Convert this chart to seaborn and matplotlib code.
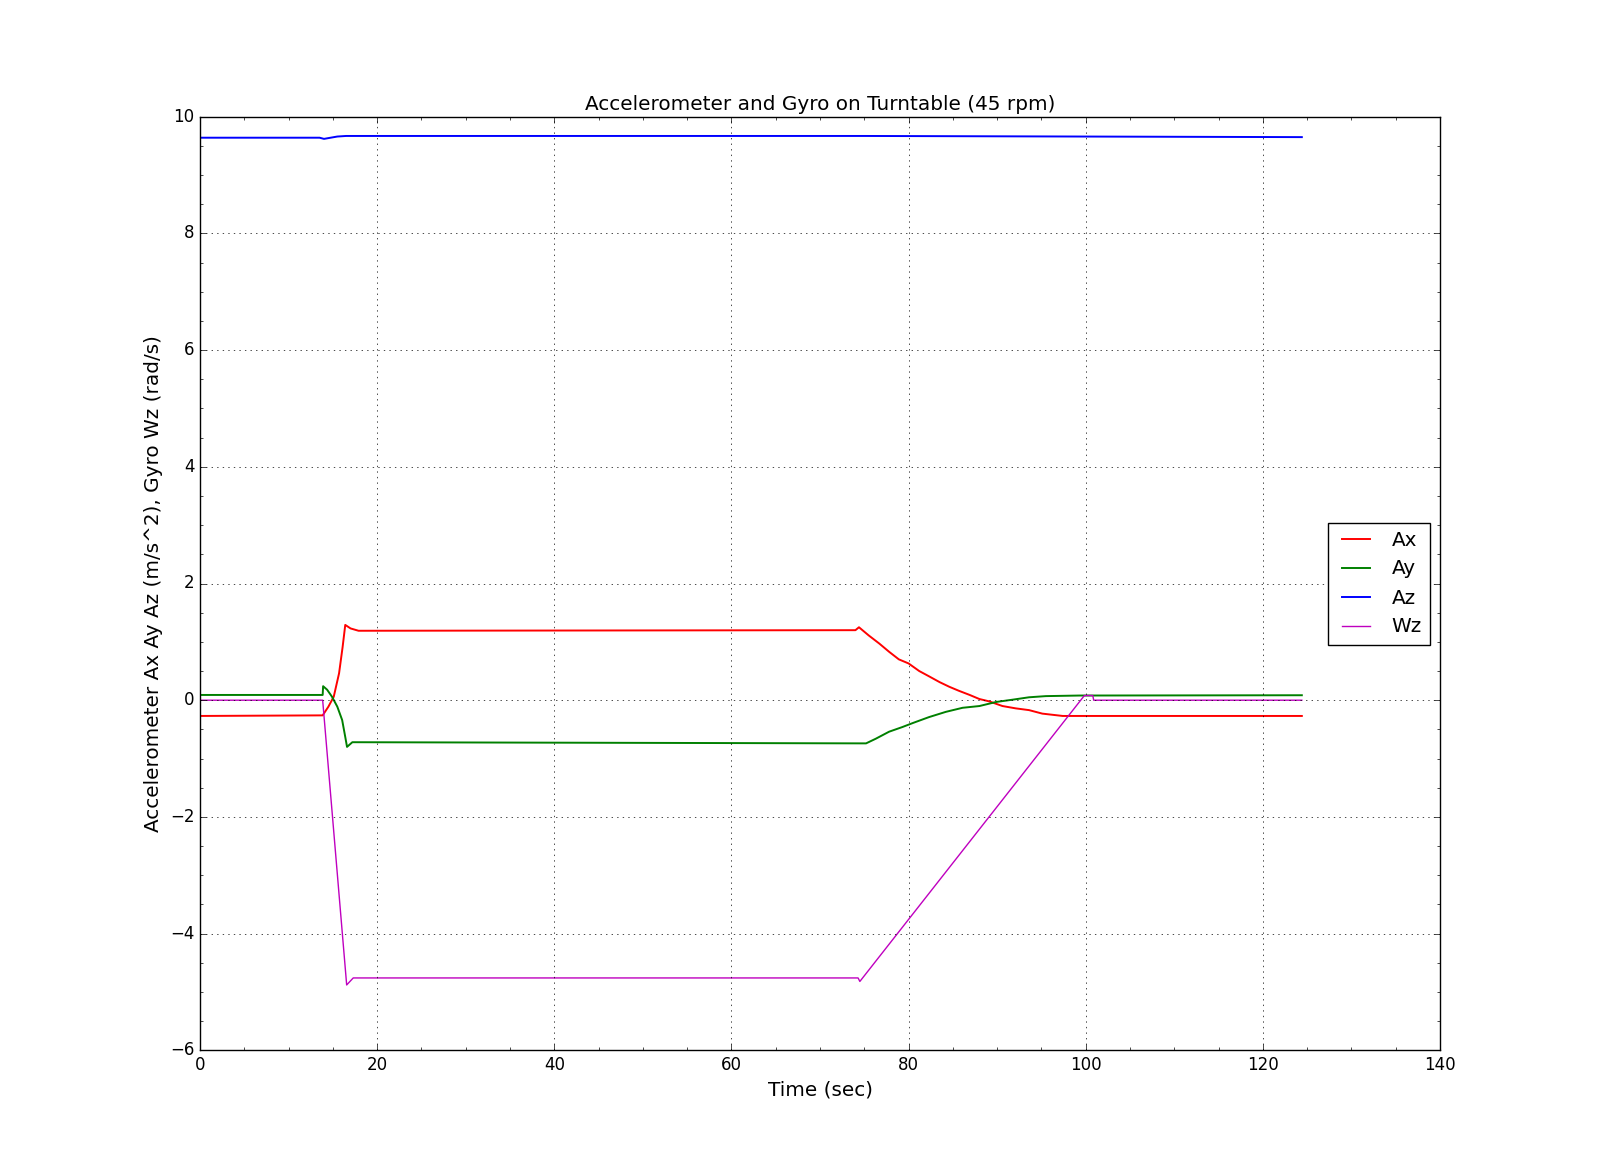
import numpy as np
import pandas as pd
import matplotlib
matplotlib.use('Agg')
import matplotlib.pyplot as plt
import seaborn as sns

# values
ax_t = [0, 13.85, 14.5, 15.1, 15.7, 16.1, 16.4, 17.0, 17.9, 74.0, 74.4, 75.5, 76.7, 77.8,
        78.9, 80.0, 81.2, 82.3, 83.5, 84.6, 85.7, 86.9, 88.0, 89.1, 90.6, 92.1, 93.6,
        95.1, 97.4, 124.4]
ax_v = [-0.27, -0.26, -0.11, 0.06, 0.46, 0.91, 1.29, 1.23, 1.19, 1.20, 1.25, 1.11, 0.97, 0.83,
        0.70, 0.63, 0.50, 0.41, 0.31, 0.23, 0.16, 0.09, 0.02, -0.02, -0.10, -0.14, -0.17,
        -0.23, -0.27, -0.27]

ay_t = [0, 13.85, 13.9, 14.35, 14.9, 15.5, 16.05, 16.4, 16.6, 17.2, 75.2, 76.3, 77.8, 79.3,
        80.5, 82.3, 84.2, 86.1, 88.0, 89.9, 91.8, 93.6, 95.5, 99.3, 124.4]
ay_v = [0.09, 0.09, 0.24, 0.18, 0.06, -0.11, -0.34, -0.63, -0.80, -0.72, -0.74, -0.66, -0.54, -0.46,
        -0.39, -0.29, -0.20, -0.13, -0.10, -0.03, 0.01, 0.05, 0.07, 0.08, 0.085]

az_t = [0, 13.5, 14.0, 15.5, 16.5, 75.0, 124.4]
az_v = [9.64, 9.64, 9.62, 9.66, 9.67, 9.67, 9.65]

wz_t = [0, 13.85, 16.56, 17.3, 74.3, 74.5, 99.85, 100.8, 100.9, 124.4]
wz_v = [0.0, 0.0, -4.88, -4.76, -4.76, -4.82, 0.08, 0.08, 0.0, 0.0]

series = [('Ax', ax_t, ax_v, 'r', 1.4), ('Ay', ay_t, ay_v, 'g', 1.4),
          ('Az', az_t, az_v, 'b', 1.4), ('Wz', wz_t, wz_v, 'm', 1.0)]

plt.style.use('classic')
fig = plt.figure(figsize=(16, 11.67), dpi=100, facecolor='white')
ax = fig.add_subplot(1, 1, 1)

for name, t, v, c, lw in series:
    df = pd.DataFrame({'t': t, 'v': v})
    sns.lineplot(data=df, x='t', y='v', color=c, linewidth=lw, label=name, ax=ax,
                 estimator=None, sort=False)

ax.set_xlim(0, 140)
ax.set_ylim(-6, 10)
ax.minorticks_on()
ax.grid(True, which='major')
ax.set_title('Accelerometer and Gyro on Turntable (45 rpm)')
ax.set_xlabel('Time (sec)', fontsize='large')
ax.set_ylabel('Accelerometer Ax Ay Az (m/s^2), Gyro Wz (rad/s)', fontsize='large')
ax.legend(loc='center right')

fig.savefig('out.png', dpi=100, facecolor='white')
